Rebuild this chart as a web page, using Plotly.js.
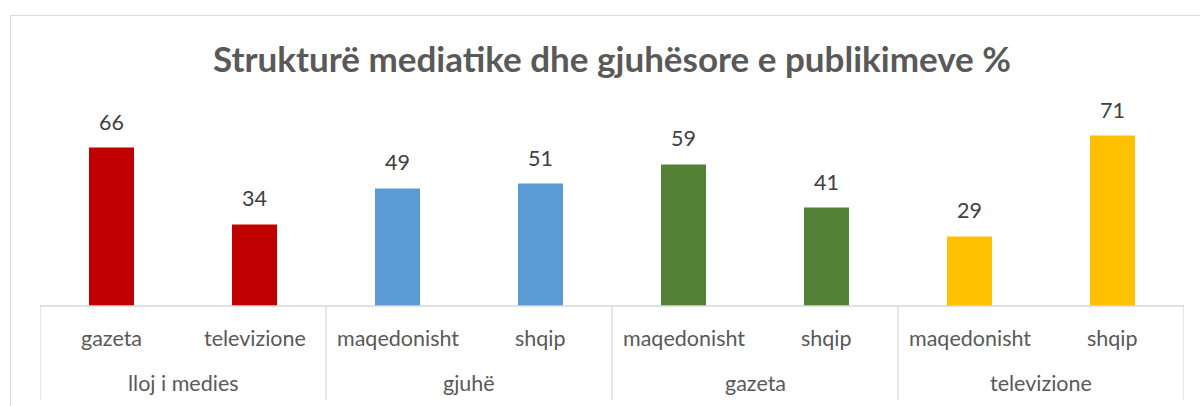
<!DOCTYPE html>
<html>
<head>
<meta charset="utf-8">
<script src="https://cdn.plot.ly/plotly-3.0.1.min.js"></script>
<style>
html,body{margin:0;padding:0;background:#fff;}
#chart{width:1200px;height:406px;}
</style>
</head>
<body>
<div id="chart"></div>
<script>
// Data
var groupLabels = ["lloj i medies", "gjuhë", "gazeta", "televizione"];
var subLabels = ["gazeta", "televizione", "maqedonisht", "shqip", "maqedonisht", "shqip", "maqedonisht", "shqip"];
var groupOf = [0, 0, 1, 1, 2, 2, 3, 3];
var values = [66, 34, 49, 51, 59, 41, 29, 71];
var groupColors = ["#C00000", "#5B9BD5", "#538135", "#FFC000"];
var titleText = "Strukturë mediatike dhe gjuhësore e publikimeve %";

var FONT = "Lato, 'Liberation Sans', sans-serif";
var TXT = "#595959";

var xs = values.map(function(v, i){ return i; });
var barColors = groupOf.map(function(g){ return groupColors[g]; });

var trace = {
  type: "bar",
  x: xs,
  y: values,
  width: 0.315,
  marker: {color: barColors, line: {width: 0}},
  hoverinfo: "x+y",
  showlegend: false
};

var annotations = [];
// value labels
values.forEach(function(v, i){
  annotations.push({
    x: i, y: v, xref: "x", yref: "y",
    text: String(v), showarrow: false,
    yanchor: "bottom", yshift: 11,
    font: {family: FONT, size: 21.5, color: "#404040"}
  });
});
// sub labels
subLabels.forEach(function(s, i){
  annotations.push({
    x: i, y: 0, xref: "x", yref: "paper",
    text: s, showarrow: false,
    yanchor: "middle", yshift: -32,
    font: {family: FONT, size: 21.5, color: TXT}
  });
});
// group labels
groupLabels.forEach(function(g, gi){
  var idx = [];
  groupOf.forEach(function(o, i){ if (o === gi) idx.push(i); });
  var cx = (idx[0] + idx[idx.length-1]) / 2;
  annotations.push({
    x: cx, y: 0, xref: "x", yref: "paper",
    text: g, showarrow: false,
    yanchor: "middle", yshift: -77,
    font: {family: FONT, size: 21.5, color: TXT}
  });
});

var plotH = 406 - 114 - 100;
var shapes = [];
// dividers between groups
var bounds = [-0.5];
groupLabels.forEach(function(g, gi){
  var last = -1;
  groupOf.forEach(function(o, i){ if (o === gi) last = i; });
  bounds.push(last + 0.5);
});
bounds.forEach(function(b){
  shapes.push({type: "line", xref: "x", yref: "paper", x0: b, x1: b,
    y0: 0, y1: -94 / plotH, line: {color: "#D9D9D9", width: 1.3}});
});
// baseline
shapes.push({type: "line", xref: "paper", yref: "paper", x0: 0, x1: 1, y0: 0, y1: 0,
  line: {color: "#D9D9D9", width: 1.3}});
// outer chart border (cropped)
var px = function(x){ return (x - 40) / 1144; };
var py = function(y){ return (306 - y) / plotH; };
shapes.push({type: "line", xref: "paper", yref: "paper", x0: px(10.5), x1: px(1210), y0: py(15.5), y1: py(15.5),
  line: {color: "#D9D9D9", width: 1}});
shapes.push({type: "line", xref: "paper", yref: "paper", x0: px(10.5), x1: px(10.5), y0: py(15.5), y1: py(420),
  line: {color: "#D9D9D9", width: 1}});

var layout = {
  width: 1200, height: 406,
  margin: {l: 40, r: 16, t: 114, b: 100},
  paper_bgcolor: "#FFFFFF",
  plot_bgcolor: "#FFFFFF",
  title: {
    text: "<b>" + titleText + "</b>",
    x: 0.51, xanchor: "center",
    y: 1 - 60 / 406, yanchor: "middle", yref: "container",
    font: {family: FONT, size: 35, color: TXT}
  },
  xaxis: {
    range: [-0.5, values.length - 0.5],
    showticklabels: false, showgrid: false, zeroline: false, showline: false,
    ticks: "", fixedrange: true
  },
  yaxis: {
    range: [0, 80],
    showticklabels: false, showgrid: false, zeroline: false, showline: false,
    ticks: "", fixedrange: true
  },
  annotations: annotations,
  shapes: shapes,
  bargap: 0.685
};

Plotly.newPlot("chart", [trace], layout, {displayModeBar: false, staticPlot: true});
</script>
</body>
</html>
